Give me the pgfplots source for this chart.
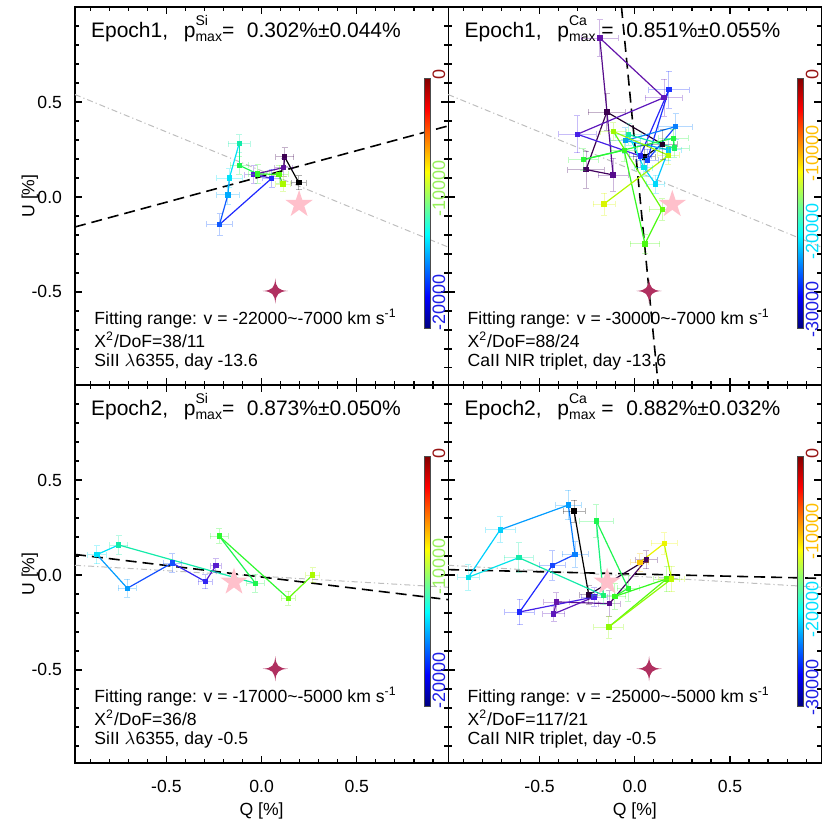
\documentclass[border=0pt]{standalone}
\usepackage{fontspec}
\setmainfont{Liberation Sans}
\usepackage{pgfplots}
\usepackage{pgfplotstable}
\pgfplotsset{compat=1.18}
\usetikzlibrary{arrows.meta}

\definecolor{starpink}{RGB}{255,192,203}
\definecolor{starred}{RGB}{176,48,96}
\definecolor{ispgray}{RGB}{190,190,190}
\definecolor{cbR}{RGB}{150,20,20}
\definecolor{cbG}{RGB}{150,240,90}
\definecolor{cbO}{RGB}{255,190,0}
\definecolor{cbC}{RGB}{0,225,255}
\definecolor{cbB}{RGB}{30,30,230}

\newcommand\ttl{\fontsize{10.5}{12}\selectfont}
\newcommand\sml{\fontsize{8.8}{10}\selectfont}
\newcommand{\pmax}[1]{p\rlap{\raisebox{1.15ex}{\fontsize{7}{7}\selectfont #1}}\raisebox{-0.3ex}{\fontsize{7}{7}\selectfont max}}

% point colours (IDL-like rainbow), colorbar uses jet
\pgfplotsset{colormap={idlrb}{rgb255(0pt)=(0,0,0) rgb255(6pt)=(60,0,80) rgb255(12pt)=(100,20,170)
  rgb255(18pt)=(80,30,225) rgb255(23pt)=(30,40,255) rgb255(29pt)=(15,100,255) rgb255(34pt)=(0,170,255)
  rgb255(40pt)=(0,225,250) rgb255(45pt)=(20,235,170) rgb255(51pt)=(30,245,80) rgb255(60pt)=(60,250,20)
  rgb255(68pt)=(170,250,0) rgb255(75pt)=(235,245,0) rgb255(85pt)=(255,175,0) rgb255(93pt)=(255,80,0)
  rgb255(100pt)=(220,0,0)}}

\pgfdeclareplotmark{fourstar}{%
  \pgfpathmoveto{\pgfqpoint{0pt}{\pgfplotmarksize}}%
  \pgfpathcurveto{\pgfqpoint{0.05\pgfplotmarksize}{0.25\pgfplotmarksize}}{\pgfqpoint{0.25\pgfplotmarksize}{0.05\pgfplotmarksize}}{\pgfqpoint{\pgfplotmarksize}{0pt}}%
  \pgfpathcurveto{\pgfqpoint{0.25\pgfplotmarksize}{-0.05\pgfplotmarksize}}{\pgfqpoint{0.05\pgfplotmarksize}{-0.25\pgfplotmarksize}}{\pgfqpoint{0pt}{-\pgfplotmarksize}}%
  \pgfpathcurveto{\pgfqpoint{-0.05\pgfplotmarksize}{-0.25\pgfplotmarksize}}{\pgfqpoint{-0.25\pgfplotmarksize}{-0.05\pgfplotmarksize}}{\pgfqpoint{-\pgfplotmarksize}{0pt}}%
  \pgfpathcurveto{\pgfqpoint{-0.25\pgfplotmarksize}{0.05\pgfplotmarksize}}{\pgfqpoint{-0.05\pgfplotmarksize}{0.25\pgfplotmarksize}}{\pgfqpoint{0pt}{\pgfplotmarksize}}%
  \pgfpathclose\pgfusepathqfill}
\pgfdeclareplotmark{fivestar}{%
  \pgfpathmoveto{\pgfpointpolar{90}{\pgfplotmarksize}}%
  \pgfpathlineto{\pgfpointpolar{126}{0.382\pgfplotmarksize}}\pgfpathlineto{\pgfpointpolar{162}{\pgfplotmarksize}}%
  \pgfpathlineto{\pgfpointpolar{198}{0.382\pgfplotmarksize}}\pgfpathlineto{\pgfpointpolar{234}{\pgfplotmarksize}}%
  \pgfpathlineto{\pgfpointpolar{270}{0.382\pgfplotmarksize}}\pgfpathlineto{\pgfpointpolar{306}{\pgfplotmarksize}}%
  \pgfpathlineto{\pgfpointpolar{342}{0.382\pgfplotmarksize}}\pgfpathlineto{\pgfpointpolar{18}{\pgfplotmarksize}}%
  \pgfpathlineto{\pgfpointpolar{54}{0.382\pgfplotmarksize}}%
  \pgfpathclose\pgfusepathqfill}

\pgfplotsset{
  qu/.style={scale only axis, width=186.6pt, height=189pt,
    xmin=-0.98, xmax=0.98, ymin=-0.99, ymax=1.0,
    xtick={-0.5,0,0.5}, ytick={-0.5,0,0.5},
    minor xtick={-0.9,-0.8,...,0.9}, minor ytick={-0.9,-0.8,...,0.9},
    xticklabels={}, yticklabels={},
    tick align=inside, major tick length=3.5pt, minor tick length=2pt,
    axis line style={line width=0.6pt}, every tick/.style={black, line width=0.6pt},
    ticklabel style={font=\sml},
    xticklabel style={yshift=-5pt}, yticklabel style={xshift=-3pt},
    every axis y label/.style={at={(axis description cs:-0.121,0.5)}, rotate=90, anchor=center, font=\sml},
    every axis x label/.style={at={(axis description cs:0.5,-0.126)}, anchor=center, font=\sml},
    colormap/jet, point meta min=0, point meta max=1,
    colorbar,
    colorbar style={at={(parent axis.south west)}, anchor=south west, xshift=166pt, yshift=28.5pt,
      width=3pt, height=125pt, major tick length=0pt, ytick style={draw=none},
      axis line style={line width=0.3pt, black!70},
      yticklabel style={rotate=90, anchor=north, font=\fontsize{9}{9}\selectfont, inner sep=1pt, xshift=1.5pt}},
  },
  pathline/.style={mesh, colormap name=idlrb, shader=flat corner, line width=0.6pt, point meta=\thisrow{c}},
  pts/.style={scatter, only marks, colormap name=idlrb, mark=square*, mark size=1.1pt, point meta=\thisrow{c},
    scatter/use mapped color={draw=mapped color, fill=mapped color},
    visualization depends on={\thisrow{ex} \as \errx},
    visualization depends on={\thisrow{ey} \as \erry},
    scatter/@pre marker code/.append code={%
      \draw[mapped color, draw opacity=0.3, line width=0.4pt, {Bar[width=3pt]}-{Bar[width=3pt]}]
        (axis direction cs:-\errx,0) -- (axis direction cs:\errx,0);
      \draw[mapped color, draw opacity=0.3, line width=0.4pt, {Bar[width=3pt]}-{Bar[width=3pt]}]
        (axis direction cs:0,-\erry) -- (axis direction cs:0,\erry);
    }},
}

% Q U errQ errU colour
\pgfplotstableread{
x y ex ey c
0.195 0.076 0.04 0.04 0.00
0.121 0.211 0.05 0.05 0.06
0.116 0.155 0.05 0.05 0.11
-0.041 0.118 0.05 0.05 0.17
0.053 0.098 0.05 0.05 0.23
-0.221 -0.145 0.07 0.06 0.28
-0.177 0.011 0.06 0.05 0.34
-0.169 0.100 0.07 0.05 0.40
-0.118 0.281 0.06 0.05 0.45
-0.118 0.167 0.05 0.05 0.51
-0.021 0.121 0.05 0.05 0.57
0.091 0.119 0.05 0.05 0.62
0.112 0.068 0.04 0.04 0.68
}\tSiA
\pgfplotstableread{
x y ex ey c
0.049 0.211 0.06 0.06 0.00
0.146 0.277 0.08 0.08 0.03
-0.147 0.447 0.10 0.10 0.06
-0.256 0.144 0.10 0.10 0.07
-0.114 0.116 0.08 0.09 0.10
-0.184 0.837 0.10 0.10 0.12
0.153 0.523 0.10 0.10 0.14
-0.302 0.330 0.10 0.10 0.19
0.028 0.216 0.06 0.06 0.22
0.179 0.565 0.11 0.10 0.24
0.065 0.193 0.06 0.06 0.26
0.214 0.370 0.09 0.07 0.31
-0.049 0.297 0.08 0.07 0.33
0.177 0.248 0.07 0.06 0.37
0.109 0.068 0.05 0.05 0.39
0.047 0.155 0.05 0.05 0.41
-0.033 0.328 0.07 0.06 0.45
0.207 0.258 0.08 0.05 0.50
0.202 0.309 0.08 0.05 0.53
-0.270 0.197 0.08 0.06 0.55
-0.056 0.246 0.07 0.06 0.58
0.053 -0.247 0.08 0.05 0.61
0.144 -0.066 0.07 0.06 0.63
-0.112 0.344 0.07 0.05 0.67
0.177 0.219 0.06 0.05 0.69
-0.162 -0.037 0.06 0.06 0.73
}\tCaA
\pgfplotstableread{
x y ex ey c
-0.240 0.049 0.03 0.04 0.16
-0.295 -0.035 0.04 0.04 0.21
-0.470 0.063 0.05 0.05 0.27
-0.705 -0.070 0.05 0.05 0.33
-0.865 0.107 0.05 0.05 0.40
-0.751 0.158 0.05 0.05 0.45
-0.032 -0.044 0.05 0.05 0.51
-0.223 0.205 0.05 0.04 0.56
0.140 -0.123 0.04 0.04 0.63
0.268 0.000 0.04 0.04 0.68
}\tSiB
\pgfplotstableread{
x y ex ey c
-0.319 0.337 0.06 0.06 0.00
-0.242 -0.105 0.05 0.05 0.04
0.061 0.080 0.06 0.05 0.07
-0.133 -0.151 0.06 0.07 0.10
-0.412 -0.142 0.07 0.05 0.12
-0.426 -0.205 0.06 0.04 0.14
-0.214 -0.116 0.07 0.05 0.19
-0.605 -0.195 0.08 0.07 0.23
-0.433 0.051 0.07 0.08 0.26
-0.314 0.108 0.07 0.07 0.31
-0.349 0.368 0.07 0.08 0.33
-0.707 0.238 0.08 0.07 0.38
-0.874 -0.012 0.06 0.07 0.41
-0.609 0.091 0.08 0.08 0.45
-0.165 -0.107 0.06 0.05 0.48
-0.202 0.284 0.09 0.09 0.51
-0.035 -0.070 0.06 0.07 0.55
-0.105 -0.113 0.06 0.07 0.58
0.167 -0.021 0.07 0.07 0.62
-0.137 -0.274 0.08 0.06 0.66
0.193 -0.021 0.07 0.07 0.70
0.154 0.166 0.07 0.06 0.75
0.026 0.066 0.05 0.05 0.82
}\tCaB

\begin{document}
\begin{tikzpicture}
\path[use as bounding box] (-37.5pt,-33.5pt) rectangle (377.5pt,381.5pt);

% Epoch1, Si
\begin{axis}[qu, at={(0pt,189pt)}, anchor=south west,
  ylabel={U [\%]}, yticklabels={-0.5,0.0,0.5},
  colorbar style={ytick={0.0909,0.5455,1}, yticklabels={{\color{cbB}-20000},{\color{cbG}-10000},{\color{cbR}0}}}]
  \addplot[ispgray, line width=0.5pt, dash pattern=on 3pt off 1.5pt on 0.6pt off 1.5pt] coordinates {(-0.98,0.539) (0.98,-0.264)};
  \addplot[black, line width=0.8pt, dash pattern=on 5.5pt off 3pt] coordinates {(-0.98,-0.158) (0.98,0.374)};
  \addplot[pathline] table[x=x, y=y] {\tSiA};
  \addplot[pts] table[x=x, y=y] {\tSiA};
  \addplot[only marks, mark=fivestar, mark size=7.2pt, color=starpink] coordinates {(0.197,-0.039)};
  \addplot[only marks, mark=fourstar, mark size=6.3pt, color=starred] coordinates {(0.072,-0.495)};
  \node[anchor=base west, font=\ttl, inner sep=0pt] at (rel axis cs:0.042,0.918) {Epoch1,\hspace{0.75em}\pmax{Si}=\hspace{0.6em}0.302\%±0.044\%};
  \node[anchor=base west, font=\sml, inner sep=0pt] at (rel axis cs:0.051,0.159) {Fitting range: v = -22000\textasciitilde-7000 km s\textsuperscript{-1}};
  \node[anchor=base west, font=\sml, inner sep=0pt] at (rel axis cs:0.051,0.098) {X\textsuperscript{2}/DoF=38/11};
  \node[anchor=base west, font=\sml, inner sep=0pt] at (rel axis cs:0.051,0.048) {SiII $\lambda$6355, day -13.6};
\end{axis}

% Epoch1, Ca
\begin{axis}[qu, at={(186.6pt,189pt)}, anchor=south west,
  colorbar style={ytick={0.0625,0.375,0.6875,1}, yticklabels={{\color{cbB}-30000},{\color{cbC}-20000},{\color{cbO}-10000},{\color{cbR}0}}}]
  \addplot[ispgray, line width=0.5pt, dash pattern=on 3pt off 1.5pt on 0.6pt off 1.5pt] coordinates {(-0.98,0.539) (0.98,-0.264)};
  \addplot[black, line width=0.8pt, dash pattern=on 5.5pt off 3pt] coordinates {(-0.070,1.0) (0.123,-0.99)};
  \addplot[pathline] table[x=x, y=y] {\tCaA};
  \addplot[pts] table[x=x, y=y] {\tCaA};
  \addplot[only marks, mark=fivestar, mark size=7.2pt, color=starpink] coordinates {(0.197,-0.039)};
  \addplot[only marks, mark=fourstar, mark size=6.3pt, color=starred] coordinates {(0.075,-0.495)};
  \node[anchor=base west, font=\ttl, inner sep=0pt] at (rel axis cs:0.043,0.918) {Epoch1,\hspace{0.75em}\pmax{Ca}\ =\hspace{0.6em}0.851\%±0.055\%};
  \node[anchor=base west, font=\sml, inner sep=0pt] at (rel axis cs:0.051,0.159) {Fitting range: v = -30000\textasciitilde-7000 km s\textsuperscript{-1}};
  \node[anchor=base west, font=\sml, inner sep=0pt] at (rel axis cs:0.051,0.098) {X\textsuperscript{2}/DoF=88/24};
  \node[anchor=base west, font=\sml, inner sep=0pt] at (rel axis cs:0.051,0.048) {CaII NIR triplet, day -13.6};
\end{axis}

% Epoch2, Si
\begin{axis}[qu, at={(0pt,0pt)}, anchor=south west,
  ylabel={U [\%]}, yticklabels={-0.5,0.0,0.5}, xlabel={Q [\%]}, xticklabels={-0.5,0.0,0.5},
  colorbar style={ytick={0.0909,0.5455,1}, yticklabels={{\color{cbB}-20000},{\color{cbG}-10000},{\color{cbR}0}}}]
  \addplot[ispgray, line width=0.5pt, dash pattern=on 3pt off 1.5pt on 0.6pt off 1.5pt] coordinates {(-0.98,0.051) (0.98,-0.065)};
  \addplot[black, line width=0.8pt, dash pattern=on 5.5pt off 3pt] coordinates {(-0.98,0.108) (0.98,-0.130)};
  \addplot[pathline] table[x=x, y=y] {\tSiB};
  \addplot[pts] table[x=x, y=y] {\tSiB};
  \addplot[only marks, mark=fivestar, mark size=7.2pt, color=starpink] coordinates {(-0.145,-0.037)};
  \addplot[only marks, mark=fourstar, mark size=6.3pt, color=starred] coordinates {(0.072,-0.494)};
  \node[anchor=base west, font=\ttl, inner sep=0pt] at (rel axis cs:0.042,0.918) {Epoch2,\hspace{0.75em}\pmax{Si}=\hspace{0.6em}0.873\%±0.050\%};
  \node[anchor=base west, font=\sml, inner sep=0pt] at (rel axis cs:0.051,0.159) {Fitting range: v = -17000\textasciitilde-5000 km s\textsuperscript{-1}};
  \node[anchor=base west, font=\sml, inner sep=0pt] at (rel axis cs:0.051,0.098) {X\textsuperscript{2}/DoF=36/8};
  \node[anchor=base west, font=\sml, inner sep=0pt] at (rel axis cs:0.051,0.048) {SiII $\lambda$6355, day -0.5};
\end{axis}

% Epoch2, Ca
\begin{axis}[qu, at={(186.6pt,0pt)}, anchor=south west,
  xlabel={Q [\%]}, xticklabels={-0.5,0.0,0.5},
  colorbar style={ytick={0.0625,0.375,0.6875,1}, yticklabels={{\color{cbB}-30000},{\color{cbC}-20000},{\color{cbO}-10000},{\color{cbR}0}}}]
  \addplot[ispgray, line width=0.5pt, dash pattern=on 3pt off 1.5pt on 0.6pt off 1.5pt] coordinates {(-0.98,0.051) (0.98,-0.065)};
  \addplot[black, line width=0.8pt, dash pattern=on 5.5pt off 3pt] coordinates {(-0.98,0.028) (0.98,-0.018)};
  \addplot[pathline] table[x=x, y=y] {\tCaB};
  \addplot[pts] table[x=x, y=y] {\tCaB};
  \addplot[only marks, mark=fivestar, mark size=7.2pt, color=starpink] coordinates {(-0.145,-0.037)};
  \addplot[only marks, mark=fourstar, mark size=6.3pt, color=starred] coordinates {(0.075,-0.494)};
  \node[anchor=base west, font=\ttl, inner sep=0pt] at (rel axis cs:0.043,0.918) {Epoch2,\hspace{0.75em}\pmax{Ca}\ =\hspace{0.6em}0.882\%±0.032\%};
  \node[anchor=base west, font=\sml, inner sep=0pt] at (rel axis cs:0.051,0.159) {Fitting range: v = -25000\textasciitilde-5000 km s\textsuperscript{-1}};
  \node[anchor=base west, font=\sml, inner sep=0pt] at (rel axis cs:0.051,0.098) {X\textsuperscript{2}/DoF=117/21};
  \node[anchor=base west, font=\sml, inner sep=0pt] at (rel axis cs:0.051,0.048) {CaII NIR triplet, day -0.5};
\end{axis}
\end{tikzpicture}
\end{document}
